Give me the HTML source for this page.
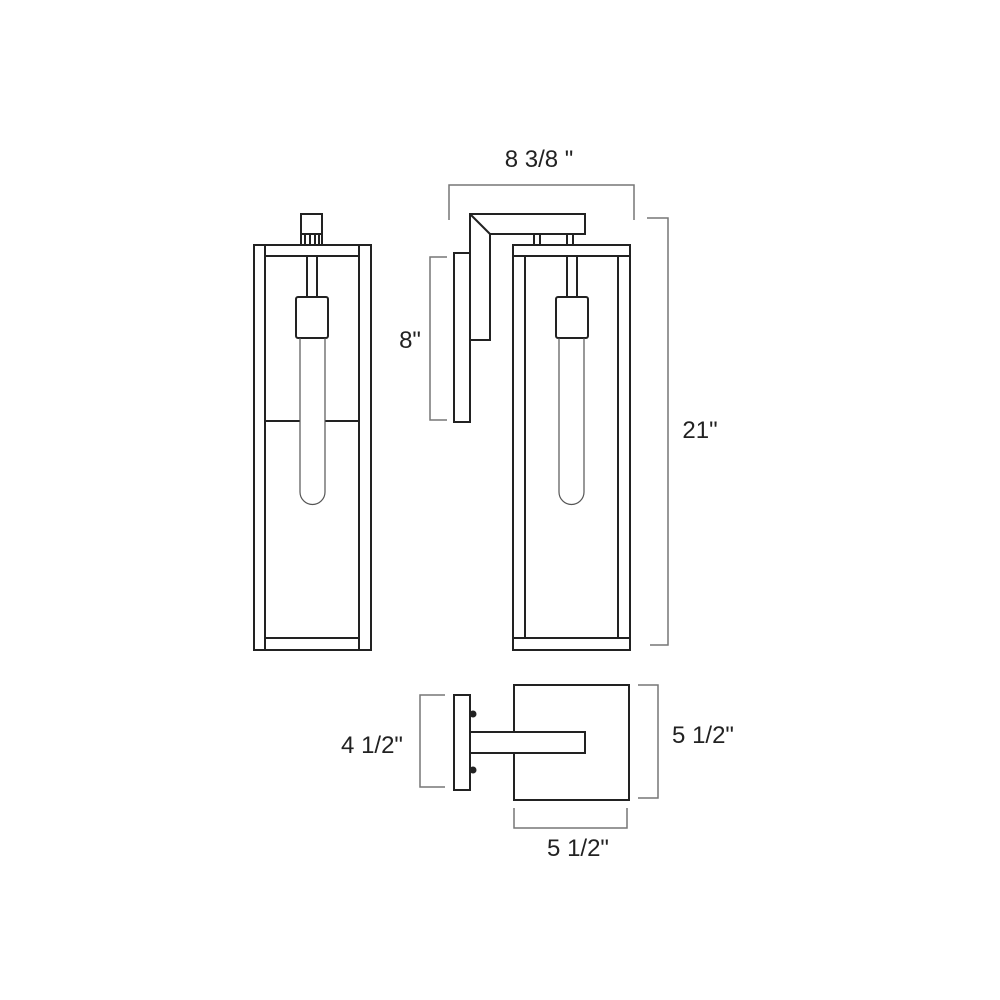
<!DOCTYPE html>
<html><head><meta charset="utf-8"><style>
html,body{margin:0;padding:0;background:#fff;}
svg{display:block}
text{font-family:"Liberation Sans",Arial,sans-serif;fill:#222;font-size:24px}
</style></head><body>
<svg width="1000" height="1000" viewBox="0 0 1000 1000" xmlns="http://www.w3.org/2000/svg">
<g fill="none" stroke="#222" stroke-width="2">
<rect x="254" y="245" width="117" height="405"/>
<line x1="265" y1="245" x2="265" y2="650"/>
<line x1="359" y1="245" x2="359" y2="650"/>
<line x1="265" y1="256" x2="359" y2="256"/>
<line x1="265" y1="638" x2="359" y2="638"/>
<line x1="265" y1="421" x2="300" y2="421"/>
<line x1="325" y1="421" x2="359" y2="421"/>
<rect x="301" y="214" width="21" height="31"/>
<line x1="305" y1="234" x2="305" y2="245"/><line x1="310" y1="234" x2="310" y2="245"/>
<line x1="315" y1="234" x2="315" y2="245"/><line x1="319" y1="234" x2="319" y2="245"/>
<line x1="301" y1="234" x2="322" y2="234"/>
<line x1="307" y1="256" x2="307" y2="297"/><line x1="317" y1="256" x2="317" y2="297"/>
<rect x="296" y="297" width="32" height="41" rx="2"/>
<path d="M300 338 V492 A12.5 12.5 0 0 0 325 492 V338" stroke-width="1.2" stroke="#555"/>

<rect x="454" y="253" width="16" height="169"/>
<path d="M470 214 H585 V234 H490 V340 H470 Z"/>
<line x1="470" y1="214" x2="490" y2="234"/>
<line x1="534" y1="234" x2="534" y2="245"/><line x1="540" y1="234" x2="540" y2="245"/>
<line x1="567" y1="234" x2="567" y2="245"/><line x1="573" y1="234" x2="573" y2="245"/>
<rect x="513" y="245" width="117" height="405"/>
<line x1="513" y1="256" x2="630" y2="256"/>
<line x1="513" y1="638" x2="630" y2="638"/>
<line x1="525" y1="256" x2="525" y2="638"/>
<line x1="618" y1="256" x2="618" y2="638"/>
<line x1="567" y1="256" x2="567" y2="297"/><line x1="577" y1="256" x2="577" y2="297"/>
<rect x="556" y="297" width="32" height="41" rx="2"/>
<path d="M559 338 V492 A12.5 12.5 0 0 0 584 492 V338" stroke-width="1.2" stroke="#555"/>

<rect x="454" y="695" width="16" height="95"/>
<rect x="470" y="732" width="115" height="21"/>
<path d="M514 732 V685 H629 V800 H514 V753"/>
<circle cx="473" cy="714" r="3.5" fill="#222" stroke="none"/>
<circle cx="473" cy="770" r="3.5" fill="#222" stroke="none"/>
</g>
<g fill="none" stroke="#777" stroke-width="1.5">
<path d="M449 220 V185 H634 V220"/>
<path d="M447 257 H430 V420 H447"/>
<path d="M647 218 H668 V645 H650"/>
<path d="M445 695 H420 V787 H445"/>
<path d="M638 685 H658 V798 H638"/>
<path d="M514 808 V828 H627 V808"/>
</g>
<text x="539" y="167" text-anchor="middle">8 3/8 "</text>
<text x="410" y="348" text-anchor="middle">8"</text>
<text x="700" y="438" text-anchor="middle">21"</text>
<text x="372" y="753" text-anchor="middle">4 1/2"</text>
<text x="703" y="743" text-anchor="middle">5 1/2"</text>
<text x="578" y="856" text-anchor="middle">5 1/2"</text>
</svg>
</body></html>
